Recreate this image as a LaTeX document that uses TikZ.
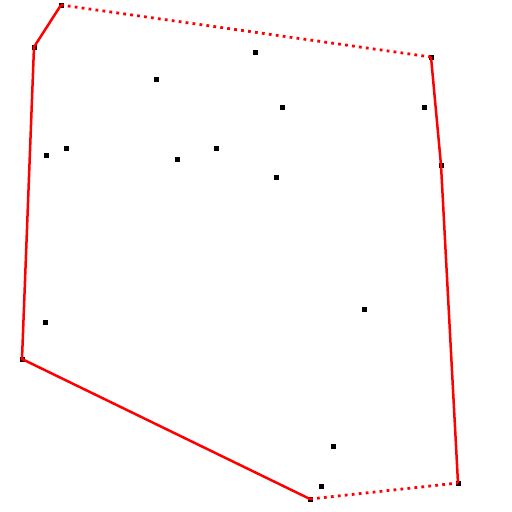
\documentclass[tikz,border=0pt]{standalone}
\usetikzlibrary{calc}

\tikzset{
  pt/.style={fill=black,inner sep=0pt,minimum size=5pt},
  hullpt/.style={fill=black,inner sep=0pt,minimum size=5pt},
  edge/.style={red,line width=2.5pt},
  gap/.style={red,line width=2.8pt,dash pattern=on 2.8pt off 4.2pt}
}

\begin{document}
\begin{tikzpicture}[x=1pt,y=-1pt]
  \useasboundingbox (0,0) rectangle (512,512);

  % hull corners
  \node[hullpt] (h1) at (61,5) {};
  \node[hullpt] (h2) at (34,47) {};
  \node[hullpt] (h3) at (22,359) {};
  \node[hullpt] (h4) at (310,499) {};
  \node[hullpt] (h5) at (458,483) {};
  \node[hullpt] (h6) at (441,165) {};
  \node[hullpt] (h7) at (431,57) {};

  % inner points
  \foreach \px/\py [count=\i] in {255/52,156/79,282/107,424/107,46/155,66/148,
      177/159,216/148,276/177,45/322,364/309,333/446,321/486}
    \node[pt] (q\i) at (\px,\py) {};

  \draw[edge] (h1.center) -- (h2.center) -- (h3.center) -- (h4.center);
  \draw[gap] (h4.center) -- (h5.center);
  \draw[edge] (h5.center) -- (h6.center) -- (h7.center);
  \draw[gap] (h7.center) -- (h1.center);
\end{tikzpicture}
\end{document}
